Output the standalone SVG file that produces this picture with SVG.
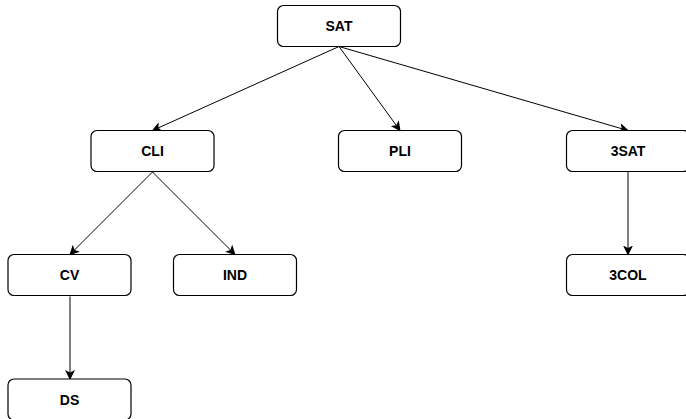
<svg xmlns="http://www.w3.org/2000/svg" width="686" height="419" viewBox="0 0 686 419">
<style>
.n rect{fill:#fff;stroke:#000;stroke-width:1.2}
.n text{font-family:"Liberation Sans",Arial,sans-serif;font-weight:bold;font-size:14px;text-anchor:middle;dominant-baseline:central;fill:#000}
.e path{fill:none;stroke:#000;stroke-width:1;marker-end:url(#a)}
</style>
<defs>
<marker id="a" viewBox="0 0 10 10" refX="9" refY="5" markerWidth="10" markerHeight="10" markerUnits="userSpaceOnUse" orient="auto">
<path d="M0,0 L10,5 L0,10 L2.5,5 Z" fill="#000"/>
</marker>
</defs>
<rect width="686" height="419" fill="#fff"/>
<g class="e">
<path d="M339,46.5 L152.5,130.5"/>
<path d="M339,46.5 L400,130.5"/>
<path d="M339,46.5 L628,130.5"/>
<path d="M152.5,172 L70,254.5"/>
<path d="M152.5,172 L235,254.5"/>
<path d="M70,296.5 L70,379"/>
<path d="M628,172 L628,254.5"/>
</g>
<g id="SAT" class="n"><rect x="277.5" y="5.5" width="123" height="41" rx="6"/><text x="339" y="26">SAT</text></g>
<g id="CLI" class="n"><rect x="91" y="130.5" width="123" height="41" rx="6"/><text x="152.5" y="151">CLI</text></g>
<g id="PLI" class="n"><rect x="338.5" y="130.5" width="123" height="41" rx="6"/><text x="400" y="151">PLI</text></g>
<g id="3SAT" class="n"><rect x="566.5" y="130.5" width="123" height="41" rx="6"/><text x="628" y="151">3SAT</text></g>
<g id="CV" class="n"><rect x="8" y="254.5" width="123" height="41" rx="6"/><text x="69.5" y="275">CV</text></g>
<g id="IND" class="n"><rect x="173.5" y="254.5" width="123" height="41" rx="6"/><text x="235" y="275">IND</text></g>
<g id="3COL" class="n"><rect x="566.5" y="254.5" width="123" height="41" rx="6"/><text x="628" y="275">3COL</text></g>
<g id="DS" class="n"><rect x="8" y="379" width="123" height="41" rx="6"/><text x="69.5" y="399.5">DS</text></g>
</svg>
